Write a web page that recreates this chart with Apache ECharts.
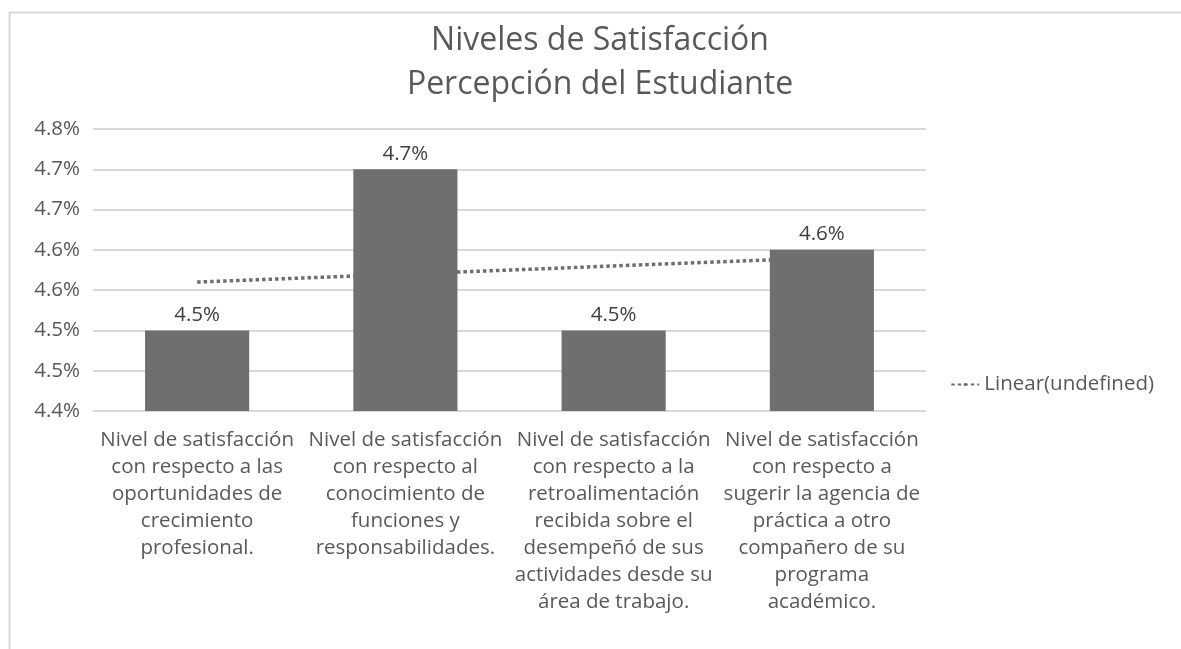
<!DOCTYPE html>
<html>
<head>
<meta charset="utf-8">
<script src="https://cdn.jsdelivr.net/npm/echarts@6/dist/echarts.min.js"></script>
<style>
	html,body{margin:0;padding:0;background:#fff;}
	#chartSatisfaccion{width:1181px;height:649px;}
</style>
</head>
<body>
<div id="chartSatisfaccion"></div>
<script>
//categorias del eje x
var categorias = [
	"Nivel de satisfacción\ncon respecto a las\noportunidades de\ncrecimiento\nprofesional.",
	"Nivel de satisfacción\ncon respecto al\nconocimiento de\nfunciones y\nresponsabilidades.",
	"Nivel de satisfacción\ncon respecto a la\nretroalimentación\nrecibida sobre el\ndesempeñó de sus\nactividades desde su\nárea de trabajo.",
	"Nivel de satisfacción\ncon respecto a\nsugerir la agencia de\npráctica a otro\ncompañero de su\nprograma\nacadémico."
];
//valores de las barras
var valores = [4.5, 4.7, 4.5, 4.6];
//linea de tendencia
var tendencia = [4.56, 4.57, 4.58, 4.59];
//eje y
var ejeMin = 4.4;
var ejeMax = 4.75;
var ejeIntervalo = 0.05;

var textColor = '#595959';
var fuente = '"Open Sans", "Noto Sans", sans-serif';

function formatoPct(v){
	return (Math.round(v * 10 + 1e-9) / 10).toFixed(1) + '%';
}

var myChart = echarts.init(document.getElementById('chartSatisfaccion'));
var options = {
	backgroundColor: '#fff',
	animation: false,
	textStyle: {fontFamily: fuente},
	graphic: [
		{
			type: 'rect',
			left: 7, top: 10,
			shape: {width: 1200, height: 700},
			style: {fill: 'none', stroke: '#d9d9d9', lineWidth: 2},
			silent: true
		}
	],
	title: {
		text: 'Niveles de Satisfacción\nPercepción del Estudiante',
		left: 595,
		textAlign: 'center',
		top: 14,
		textStyle: {
			fontFamily: fuente,
			fontSize: 32,
			fontWeight: 'normal',
			color: textColor,
			lineHeight: 44
		}
	},
	legend: {
		data: ['Linear(undefined)'],
		right: 22,
		top: 369,
		itemWidth: 28,
		itemHeight: 4,
		itemGap: 4,
		textStyle: {fontFamily: fuente, fontSize: 20.5, color: textColor}
	},
	grid: {
		left: 93,
		right: 255,
		top: 129,
		bottom: 238
	},
	xAxis: {
		type: 'category',
		data: categorias,
		boundaryGap: true,
		axisLine: {show: true, lineStyle: {color: '#d9d9d9', width: 1}},
		axisTick: {show: false},
		axisLabel: {
			interval: 0,
			margin: 16,
			fontFamily: fuente,
			fontSize: 20.5,
			lineHeight: 27,
			color: textColor
		}
	},
	yAxis: {
		type: 'value',
		min: ejeMin,
		max: ejeMax,
		interval: ejeIntervalo,
		axisLine: {show: false},
		axisTick: {show: false},
		splitLine: {lineStyle: {color: '#d9d9d9', width: 2}},
		axisLabel: {
			margin: 13,
			fontFamily: fuente,
			fontSize: 20.5,
			color: textColor,
			formatter: formatoPct
		}
	},
	series: [
		{
			name: 'Linear(undefined)',
			type: 'line',
			data: tendencia,
			z: 1,
			symbol: 'none',
			lineStyle: {color: '#6e6e6e', width: 3.5, type: [3.5, 3], cap: 'butt'},
			itemStyle: {color: '#6e6e6e'}
		},
		{
			name: 'valores',
			type: 'bar',
			data: valores,
			z: 2,
			barWidth: '50%',
			itemStyle: {color: '#6f6f6f'},
			label: {
				show: true,
				position: 'top',
				distance: 5,
				fontFamily: fuente,
				fontSize: 20.5,
				color: '#404040',
				formatter: function(p){
					return formatoPct(p.value);
				}
			}
		}
	]
};
myChart.setOption(options);
</script>
</body>
</html>
